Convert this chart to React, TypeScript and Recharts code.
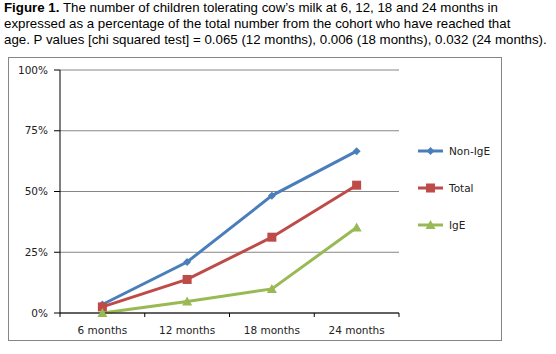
import React from 'react';
import { LineChart, Line, XAxis, YAxis, CartesianGrid, Legend } from 'recharts';

const months = ['6 months', '12 months', '18 months', '24 months'];
const nonIgE = [3.5, 21, 48.3, 66.6];
const total = [2.5, 13.8, 31.2, 52.6];
const igE = [0, 4.7, 9.9, 35.2];
const yTicks = [0, 25, 50, 75, 100];

const data = months.map((m, i) => ({ month: m, nonIgE: nonIgE[i], total: total[i], igE: igE[i] }));

const BLUE = '#4A7EBB';
const RED = '#BE4B48';
const GREEN = '#98B954';
const AXIS_FONT = '"DejaVu Sans", sans-serif';

// plot area is 339px wide, split into one band per category
const PLOT_W = 339;
const HALF_BAND = PLOT_W / months.length / 2;

const Diamond = (p: any) => {
  const { cx, cy } = p;
  if (cx == null || cy == null) return null;
  return <path key={p.key} d={`M${cx},${cy - 4}L${cx + 4},${cy}L${cx},${cy + 4}L${cx - 4},${cy}Z`} fill={BLUE} />;
};
const Square = (p: any) => {
  const { cx, cy } = p;
  if (cx == null || cy == null) return null;
  return <rect key={p.key} x={cx - 4.5} y={cy - 4.5} width={9} height={9} fill={RED} />;
};
const Triangle = (p: any) => {
  const { cx, cy } = p;
  if (cx == null || cy == null) return null;
  return <path key={p.key} d={`M${cx},${cy - 5}L${cx + 5},${cy + 4}L${cx - 5},${cy + 4}Z`} fill={GREEN} />;
};

// category label plus Excel-style tick marks on the band edges
const MonthTick = (p: any) => {
  const { x, y, payload, index } = p;
  const last = index === months.length - 1;
  return (
    <g>
      <line x1={x - HALF_BAND} y1={y} x2={x - HALF_BAND} y2={y + 4} stroke="#000" />
      {last && <line x1={x + HALF_BAND} y1={y} x2={x + HALF_BAND} y2={y + 4} stroke="#000" />}
      <text x={x} y={y + 17} textAnchor="middle" dominantBaseline="central" fontFamily={AXIS_FONT} fontSize={10.5} fill="#222">
        {payload.value}
      </text>
    </g>
  );
};

const legendItems = [
  { name: 'Non-IgE', color: BLUE, shape: 'diamond' },
  { name: 'Total', color: RED, shape: 'square' },
  { name: 'IgE', color: GREEN, shape: 'triangle' },
];

const LegendContent = () => (
  <div style={{ fontFamily: AXIS_FONT, fontSize: 10.5, color: '#222' }}>
    {legendItems.map((it) => (
      <div key={it.name} style={{ height: 37, display: 'flex', alignItems: 'center' }}>
        <svg width={29} height={12} style={{ marginRight: 2 }}>
          <line x1={0} y1={6} x2={25} y2={6} stroke={it.color} strokeWidth={3} />
          {it.shape === 'diamond' && <path d="M12.5,2L16.5,6L12.5,10L8.5,6Z" fill={it.color} />}
          {it.shape === 'square' && <rect x={8} y={1.5} width={9} height={9} fill={it.color} />}
          {it.shape === 'triangle' && <path d="M12.5,1L17.5,10L7.5,10Z" fill={it.color} />}
        </svg>
        <span>{it.name}</span>
      </div>
    ))}
  </div>
);

export default function App() {
  return (
    <div style={{ position: 'absolute', left: 0, top: 0, width: 556, height: 354, background: '#fff' }}>
      <div
        style={{
          position: 'absolute',
          left: 4,
          top: 0,
          fontFamily: '"Liberation Sans", Arial, sans-serif',
          fontSize: 13.3,
          lineHeight: '16px',
          whiteSpace: 'nowrap',
          color: '#000',
        }}
      >
        <b>Figure 1.</b> The number of children tolerating cow’s milk at 6, 12, 18 and 24 months in
        <br />
        expressed as a percentage of the total number from the cohort who have reached that
        <br />
        age. P values [chi squared test] = 0.065 (12 months), 0.006 (18 months), 0.032 (24 months).
      </div>
      <div
        style={{
          position: 'absolute',
          left: 8,
          top: 57,
          width: 494,
          height: 284,
          border: '1px solid #868686',
          boxSizing: 'border-box',
        }}
      >
        <LineChart width={492} height={282} data={data} margin={{ top: 12, right: 12, bottom: 2, left: 0 }}>
          <CartesianGrid vertical={false} stroke="#868686" strokeWidth={1} />
          <XAxis
            dataKey="month"
            height={25}
            padding={{ left: HALF_BAND, right: HALF_BAND }}
            axisLine={{ stroke: '#000' }}
            tickLine={false}
            tickSize={0}
            tickMargin={0}
            tick={<MonthTick />}
          />
          <YAxis
            width={51}
            domain={[0, 100]}
            ticks={yTicks}
            tickFormatter={(v) => `${v}%`}
            axisLine={{ stroke: '#000' }}
            tickLine={{ stroke: '#000' }}
            tickSize={6}
            tickMargin={6}
            tick={{ fontFamily: AXIS_FONT, fontSize: 10.5, fill: '#222' }}
          />
          <Legend
            layout="vertical"
            align="right"
            verticalAlign="middle"
            width={90}
            content={<LegendContent />}
            wrapperStyle={{ left: 409, top: 74 }}
          />
          <Line dataKey="nonIgE" name="Non-IgE" stroke={BLUE} strokeWidth={3} dot={Diamond} activeDot={false} isAnimationActive={false} />
          <Line dataKey="total" name="Total" stroke={RED} strokeWidth={3} dot={Square} activeDot={false} isAnimationActive={false} />
          <Line dataKey="igE" name="IgE" stroke={GREEN} strokeWidth={3} dot={Triangle} activeDot={false} isAnimationActive={false} />
        </LineChart>
      </div>
    </div>
  );
}
